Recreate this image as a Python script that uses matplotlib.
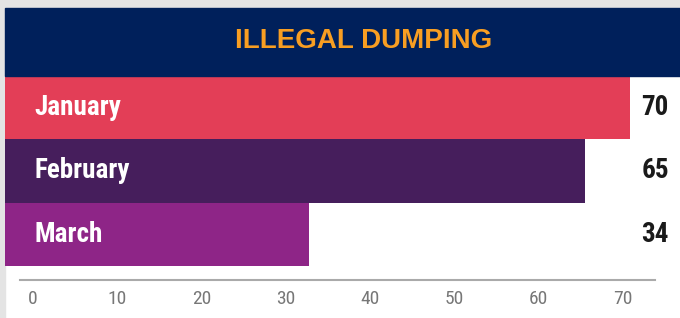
import matplotlib.pyplot as plt
from matplotlib.patches import Rectangle
from matplotlib.transforms import blended_transform_factory

months = ["January", "February", "March"]
counts = [70, 65, 34]
bar_colors = ["#e33e57", "#461e5c", "#8e2587"]
tick_values = [0, 10, 20, 30, 40, 50, 60, 70]
title = "ILLEGAL DUMPING"

W, H = 680, 318
fig = plt.figure(figsize=(W / 100, H / 100), dpi=100)
fig.patch.set_facecolor("white")


def px(x0, y0, x1, y1):
    # pixel box (top-left origin) -> figure fraction rect
    return [x0 / W, 1 - y1 / H, (x1 - x0) / W, (y1 - y0) / H]


# grey frame and navy title band
fig.add_artist(Rectangle((0, 0), 5 / W, 1, transform=fig.transFigure, color="#e4e4e4", zorder=0))
fig.add_artist(Rectangle((0, 1 - 8 / H), 1, 8 / H, transform=fig.transFigure, color="#e4e4e4", zorder=0))
fig.add_artist(Rectangle((5 / W, 1 - 76 / H), 1, 68 / H, transform=fig.transFigure, color="#00205b", zorder=1))
fig.text(364 / W, 1 - 41 / H, title, ha="center", va="center", color="#f89e22",
         fontsize=20, fontweight="bold", family="Liberation Sans")

# bars
ax = fig.add_axes(px(5, 76, 680, 266))
ax.barh(range(len(months)), counts, height=1.0, color=bar_colors)
ax.set_xlim(0, 675 * 70 / 625)
ax.set_ylim(len(months) - 0.5, -0.5)
ax.axis("off")
trans = blended_transform_factory(ax.transAxes, ax.transData)
for i, (m, v) in enumerate(zip(months, counts)):
    ax.text(29 / 675, i, m, transform=trans, ha="left", va="center", color="white",
            fontsize=19.5, fontweight="bold", family="Roboto Condensed")
    ax.text((655 - 5) / 675, i, str(v), transform=trans, ha="center", va="center",
            fontsize=19.5, fontweight="bold", color="#1a1a1a", family="Roboto Condensed")

# scale axis
ax2 = fig.add_axes(px(20, 279, 655, 280))
ax2.set_xlim((20 - 33) / (590 / 70), (655 - 33) / (590 / 70))
ax2.set_ylim(0, 1)
ax2.patch.set_visible(False)
for s in ["left", "right", "top"]:
    ax2.spines[s].set_visible(False)
ax2.spines["bottom"].set_color("#aaaaaa")
ax2.spines["bottom"].set_linewidth(1.5)
ax2.set_yticks([])
ax2.set_xticks(tick_values)
ax2.tick_params(axis="x", length=0, pad=7, labelsize=14, labelcolor="#777777")
for lab in ax2.get_xticklabels():
    lab.set_family("Roboto Condensed")

fig.savefig("out.png", dpi=100)
